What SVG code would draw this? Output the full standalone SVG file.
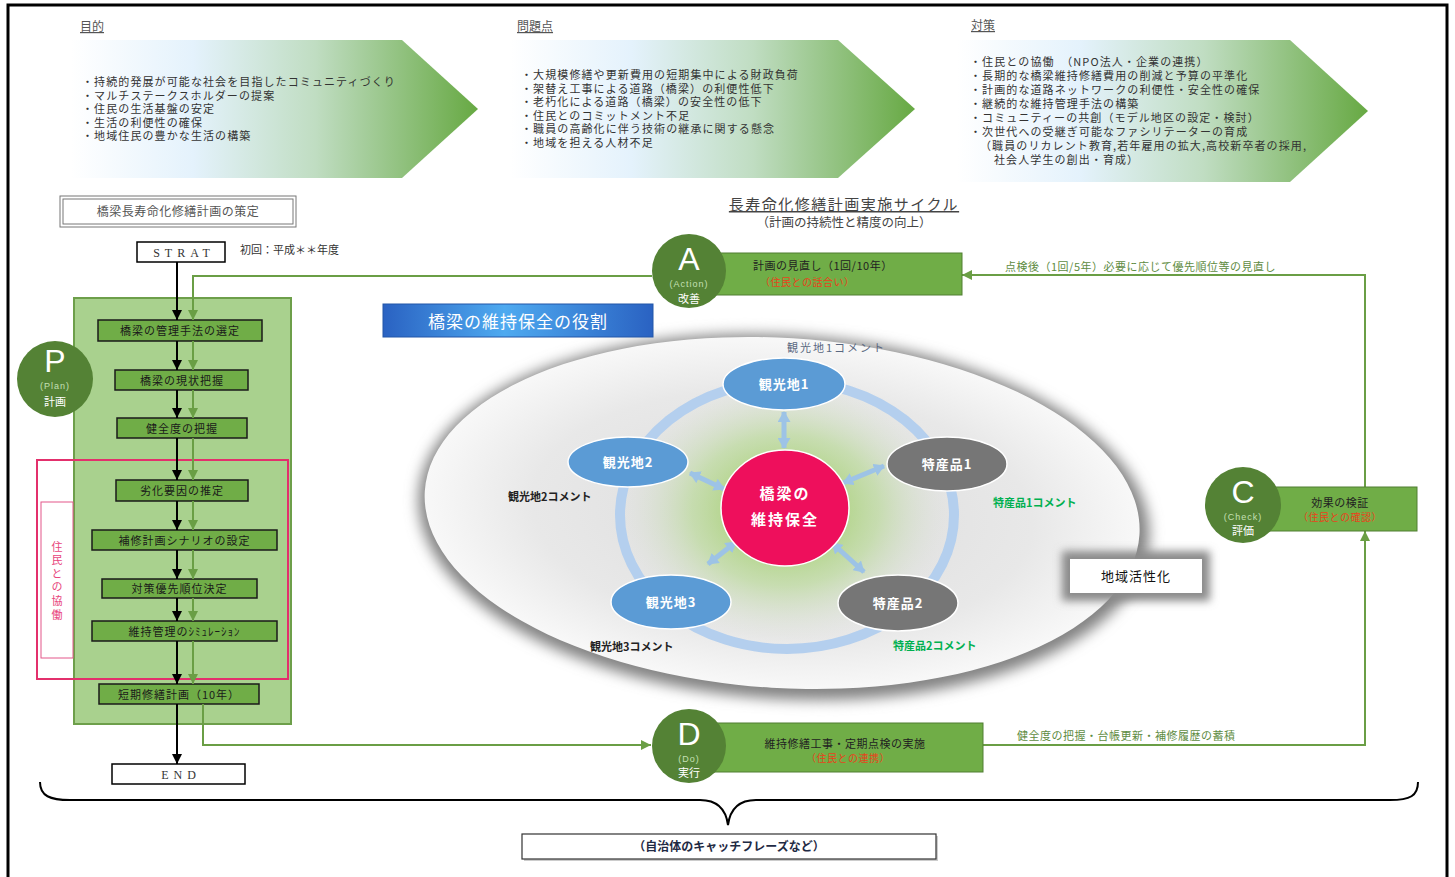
<svg xmlns="http://www.w3.org/2000/svg" width="1455" height="877" viewBox="0 0 1455 877">
<style>
text{font-family:"Noto Sans CJK JP","Noto Sans",sans-serif;}
.hd{font-size:12px;fill:#555;text-decoration:underline;}
.bl{font-size:11px;fill:#333;letter-spacing:1.1px;}
.fb{fill:#70ad47;stroke:#1a1a1a;stroke-width:1.5;}
.ft{font-size:11px;fill:#1a1a1a;letter-spacing:1px;text-anchor:middle;}
.pc{fill:#548235;}
.big{font-family:"Liberation Sans","Noto Sans",sans-serif;font-size:32px;fill:#fff;text-anchor:middle;}
.sub{font-family:"Liberation Sans","Noto Sans",sans-serif;font-size:9px;fill:#c5e0b4;text-anchor:middle;letter-spacing:1px;}
.jp{font-size:11px;fill:#fff;text-anchor:middle;}
.gr{fill:#70ad47;stroke:#507e32;stroke-width:1;}
.gt{font-size:11px;fill:#222;letter-spacing:0.5px;}
.rt{font-size:10px;fill:#e8431c;letter-spacing:0.5px;}
.gl{font-size:11px;fill:#5e8c42;letter-spacing:0.5px;}
.ln{fill:none;stroke:#6a9e45;stroke-width:2;}
.bk{fill:none;stroke:#000;stroke-width:2;}
.nb{fill:#5b9bd5;stroke:#fff;stroke-width:1.5;}
.ng{fill:#767676;stroke:#fff;stroke-width:1.5;}
.nt{font-size:13px;font-weight:bold;fill:#fff;text-anchor:middle;letter-spacing:1px;}
.ba{fill:none;stroke:#9dc3e6;stroke-width:5;}
.se{font-family:"Liberation Serif",serif;font-size:12px;fill:#333;text-anchor:middle;letter-spacing:5px;}
</style>
<defs>
<linearGradient id="gArrow" x1="0" y1="0" x2="1" y2="0">
<stop offset="0" stop-color="#ffffff"/>
<stop offset="0.3" stop-color="#e4f2fc"/>
<stop offset="0.6" stop-color="#c0ddc2"/>
<stop offset="1" stop-color="#67a943"/>
</linearGradient>
<linearGradient id="gBanner" x1="0" y1="0" x2="1" y2="0">
<stop offset="0" stop-color="#2a62c2"/>
<stop offset="0.45" stop-color="#4eaaf0"/>
<stop offset="1" stop-color="#2a62c2"/>
</linearGradient>
<radialGradient id="gEll" cx="0.5" cy="0.5" r="0.5">
<stop offset="0" stop-color="#dcdcdc"/>
<stop offset="0.7" stop-color="#e8e8e8"/>
<stop offset="1" stop-color="#f8f8f8"/>
</radialGradient>
<radialGradient id="gGlow" cx="0.5" cy="0.5" r="0.5">
<stop offset="0" stop-color="#8cc63f" stop-opacity="0.95"/>
<stop offset="0.55" stop-color="#b5d98f" stop-opacity="0.6"/>
<stop offset="1" stop-color="#e0e0e0" stop-opacity="0"/>
</radialGradient>
<filter id="blur8" x="-20%" y="-30%" width="140%" height="160%"><feGaussianBlur stdDeviation="7"/></filter>
<filter id="blur4" x="-30%" y="-60%" width="160%" height="220%"><feGaussianBlur stdDeviation="4"/></filter>
<marker id="mBlack" markerWidth="11" markerHeight="10" refX="10" refY="5" orient="auto" markerUnits="userSpaceOnUse"><path d="M0,0 L10,5 L0,10 Z" fill="#000"/></marker>
<marker id="mGreen" markerWidth="11" markerHeight="10" refX="10" refY="5" orient="auto" markerUnits="userSpaceOnUse"><path d="M0,0 L10,5 L0,10 Z" fill="#6a9e45"/></marker>
<marker id="mBlue" markerWidth="12" markerHeight="13" refX="10" refY="6.5" orient="auto-start-reverse" markerUnits="userSpaceOnUse"><path d="M0,0 L11,6.5 L0,13 Z" fill="#9dc3e6"/></marker>
</defs>
<rect x="0" y="0" width="1455" height="877" fill="#fff"/>
<rect x="8" y="5" width="1439" height="890" fill="none" stroke="#000" stroke-width="3"/>

<!-- top arrows -->
<g id="mokuteki">
<text x="80" y="31" class="hd">目的</text>
<polygon points="71,40 402,40 478,109 402,178 71,178" fill="url(#gArrow)"/>
<text class="bl" x="82" y="86">・持続的発展が可能な社会を目指したコミュニティづくり</text>
<text class="bl" x="82" y="99.5">・マルチステークスホルダーの提案</text>
<text class="bl" x="82" y="113">・住民の生活基盤の安定</text>
<text class="bl" x="82" y="126.5">・生活の利便性の確保</text>
<text class="bl" x="82" y="140">・地域住民の豊かな生活の構築</text>
</g>
<g id="mondai">
<text x="517" y="31" class="hd">問題点</text>
<polygon points="510,40 838,40 915,109 838,178 510,178" fill="url(#gArrow)"/>
<text class="bl" x="521" y="79">・大規模修繕や更新費用の短期集中による財政負荷</text>
<text class="bl" x="521" y="92.5">・架替え工事による道路（橋梁）の利便性低下</text>
<text class="bl" x="521" y="106">・老朽化による道路（橋梁）の安全性の低下</text>
<text class="bl" x="521" y="119.5">・住民とのコミットメント不足</text>
<text class="bl" x="521" y="133">・職員の高齢化に伴う技術の継承に関する懸念</text>
<text class="bl" x="521" y="146.5">・地域を担える人材不足</text>
</g>
<g id="taisaku">
<text x="971" y="30" class="hd">対策</text>
<polygon points="957,40 1290,40 1368,111 1290,182 957,182" fill="url(#gArrow)"/>
<text class="bl" x="970" y="66">・住民との協働　（NPO法人・企業の連携）</text>
<text class="bl" x="970" y="80">・長期的な橋梁維持修繕費用の削減と予算の平準化</text>
<text class="bl" x="970" y="94">・計画的な道路ネットワークの利便性・安全性の確保</text>
<text class="bl" x="970" y="108">・継続的な維持管理手法の構築</text>
<text class="bl" x="970" y="121.5">・コミュニティーの共創（モデル地区の設定・検討）</text>
<text class="bl" x="970" y="135.5">・次世代への受継ぎ可能なファシリテーターの育成</text>
<text class="bl" x="980" y="150">（職員のリカレント教育,若年雇用の拡大,高校新卒者の採用,</text>
<text class="bl" x="994" y="163.5">社会人学生の創出・育成）</text>
</g>

<!-- left plan section -->
<g id="plan-title">
<rect x="60" y="196" width="236" height="31" fill="#fff" stroke="#777" stroke-width="1"/>
<rect x="63" y="199" width="230" height="25" fill="none" stroke="#777" stroke-width="1"/>
<text x="178" y="216" font-size="12" fill="#555" text-anchor="middle" letter-spacing="0.5">橋梁長寿命化修繕計画の策定</text>
</g>
<g id="start">
<rect x="137" y="242" width="88" height="20" fill="#fff" stroke="#000" stroke-width="1.5"/>
<text x="184" y="257" class="se">STRAT</text>
<text x="240" y="254" font-size="11" fill="#333">初回：平成＊＊年度</text>
</g>
<g id="plan-panel">
<rect x="74" y="298" width="217" height="426" fill="#a9d18e" stroke="#6d9f4a" stroke-width="2"/>
</g>
<g id="jumin-kyodo">
<rect x="37" y="460" width="251" height="219" fill="none" stroke="#e3306c" stroke-width="2"/>
<rect x="41" y="502" width="32" height="156" fill="#fff" stroke="#e3578a" stroke-width="1"/>
<text x="57" y="541" font-size="11" fill="#e8457c" writing-mode="vertical-rl" letter-spacing="2.6">住民との協働</text>
</g>
<g id="P">
<circle cx="55" cy="379" r="38" class="pc"/>
<text x="55" y="372" class="big">P</text>
<text x="55" y="389" class="sub">(Plan)</text>
<text x="55" y="406" class="jp">計画</text>
</g>
<g id="box1"><rect x="98" y="320" width="164" height="21" class="fb"/><text x="180" y="335" class="ft">橋梁の管理手法の選定</text></g>
<g id="box2"><rect x="115" y="370" width="133" height="20" class="fb"/><text x="182" y="384.5" class="ft">橋梁の現状把握</text></g>
<g id="box3"><rect x="117" y="418" width="130" height="20" class="fb"/><text x="182" y="432.5" class="ft">健全度の把握</text></g>
<g id="box4"><rect x="116" y="480" width="132" height="21" class="fb"/><text x="182" y="495" class="ft">劣化要因の推定</text></g>
<g id="box5"><rect x="92" y="530" width="185" height="20" class="fb"/><text x="184.5" y="544.5" class="ft">補修計画シナリオの設定</text></g>
<g id="box6"><rect x="102" y="579" width="155" height="19" class="fb"/><text x="179.5" y="593" class="ft">対策優先順位決定</text></g>
<g id="box7"><rect x="92" y="621" width="185" height="20" class="fb"/><text x="184.5" y="635.5" class="ft">維持管理のｼﾐｭﾚｰｼｮﾝ</text></g>
<g id="box8"><rect x="99" y="684" width="160" height="20" class="fb"/><text x="179" y="698.5" class="ft">短期修繕計画（10年）</text></g>
<g id="end">
<rect x="112" y="764" width="133" height="20" fill="#fff" stroke="#000" stroke-width="1.5"/>
<text x="181" y="779" class="se">END</text>
</g>

<!-- center title -->
<g id="cycle-title">
<text x="844" y="210" font-size="15" fill="#444" text-anchor="middle" letter-spacing="1.5" text-decoration="underline">長寿命化修繕計画実施サイクル</text>
<text x="844" y="227" font-size="12.5" fill="#444" text-anchor="middle">（計画の持続性と精度の向上）</text>
</g>

<!-- ellipse diagram -->
<g id="role-ellipse">
<g transform="rotate(3.5 782 515)">
<ellipse cx="784" cy="517" rx="366" ry="182" fill="#838383" filter="url(#blur8)"/>
<ellipse cx="782" cy="513" rx="358" ry="175" fill="url(#gEll)"/>
</g>
<ellipse cx="785" cy="510" rx="170" ry="138" fill="url(#gGlow)"/>
<ellipse cx="787" cy="515" rx="167" ry="134" fill="none" stroke="#b4cfee" stroke-width="10"/>
</g>
<g id="banner">
<rect x="383" y="304" width="270" height="33" fill="url(#gBanner)" stroke="#2356a8" stroke-width="1"/>
<text x="518" y="328" font-size="17" fill="#fff" text-anchor="middle" letter-spacing="1">橋梁の維持保全の役割</text>
</g>
<g id="blue-arrows">
<line x1="784" y1="412" x2="784" y2="448" class="ba" marker-start="url(#mBlue)" marker-end="url(#mBlue)"/>
<line x1="690" y1="473" x2="724" y2="489" class="ba" marker-start="url(#mBlue)" marker-end="url(#mBlue)"/>
<line x1="708" y1="564" x2="736" y2="542" class="ba" marker-start="url(#mBlue)" marker-end="url(#mBlue)"/>
<line x1="843" y1="483" x2="884" y2="466" class="ba" marker-start="url(#mBlue)" marker-end="url(#mBlue)"/>
<line x1="832" y1="543" x2="864" y2="572" class="ba" marker-start="url(#mBlue)" marker-end="url(#mBlue)"/>
</g>
<g id="kanko1"><ellipse cx="784" cy="384" rx="61" ry="26" class="nb"/><text x="784" y="388.5" class="nt">観光地1</text></g>
<g id="kanko2"><ellipse cx="628" cy="462" rx="60" ry="25" class="nb"/><text x="628" y="466.5" class="nt">観光地2</text></g>
<g id="kanko3"><ellipse cx="671" cy="602" rx="60" ry="27" class="nb"/><text x="671" y="606.5" class="nt">観光地3</text></g>
<g id="tokusan1"><ellipse cx="947" cy="464" rx="60" ry="27" class="ng"/><text x="947" y="468.5" class="nt">特産品1</text></g>
<g id="tokusan2"><ellipse cx="898" cy="603" rx="60" ry="28" class="ng"/><text x="898" y="607.5" class="nt">特産品2</text></g>
<g id="center">
<ellipse cx="785" cy="508" rx="64" ry="58" fill="#ee0f5c" stroke="#fff" stroke-width="1.5"/>
<text x="785" y="499" font-size="15" font-weight="bold" fill="#fff" text-anchor="middle" letter-spacing="2">橋梁の</text>
<text x="785" y="525" font-size="15" font-weight="bold" fill="#fff" text-anchor="middle" letter-spacing="2">維持保全</text>
</g>
<g id="comments" font-size="11">
<text x="787" y="352" fill="#596780" letter-spacing="2">観光地1コメント</text>
<text x="508" y="501" fill="#222" font-weight="bold">観光地2コメント</text>
<text x="590" y="651" fill="#222" font-weight="bold">観光地3コメント</text>
<text x="993" y="507" fill="#00b050" font-weight="bold">特産品1コメント</text>
<text x="893" y="650" fill="#00b050" font-weight="bold">特産品2コメント</text>
</g>
<g id="chiiki">
<rect x="1062" y="551" width="148" height="50" fill="#8a8a8a" filter="url(#blur4)"/>
<rect x="1070" y="559" width="132" height="34" fill="#fff"/>
<text x="1136" y="581" font-size="13" fill="#111" text-anchor="middle" letter-spacing="1">地域活性化</text>
</g>

<!-- connectors -->
<g id="connectors">
<line x1="177" y1="262" x2="177" y2="320" class="bk" marker-end="url(#mBlack)"/>
<line x1="177" y1="341" x2="177" y2="370" class="bk" marker-end="url(#mBlack)"/>
<line x1="177" y1="390" x2="177" y2="418" class="bk" marker-end="url(#mBlack)"/>
<line x1="177" y1="438" x2="177" y2="480" class="bk" marker-end="url(#mBlack)"/>
<line x1="177" y1="501" x2="177" y2="530" class="bk" marker-end="url(#mBlack)"/>
<line x1="177" y1="550" x2="177" y2="579" class="bk" marker-end="url(#mBlack)"/>
<line x1="177" y1="598" x2="177" y2="621" class="bk" marker-end="url(#mBlack)"/>
<line x1="177" y1="641" x2="177" y2="684" class="bk" marker-end="url(#mBlack)"/>
<line x1="177" y1="704" x2="177" y2="764" class="bk" marker-end="url(#mBlack)"/>
<path d="M652,276 H193 V320" class="ln" marker-end="url(#mGreen)"/>
<line x1="193" y1="341" x2="193" y2="370" class="ln" marker-end="url(#mGreen)"/>
<line x1="193" y1="390" x2="193" y2="418" class="ln" marker-end="url(#mGreen)"/>
<line x1="193" y1="438" x2="193" y2="480" class="ln" marker-end="url(#mGreen)"/>
<line x1="193" y1="501" x2="193" y2="530" class="ln" marker-end="url(#mGreen)"/>
<line x1="193" y1="550" x2="193" y2="579" class="ln" marker-end="url(#mGreen)"/>
<line x1="193" y1="598" x2="193" y2="621" class="ln" marker-end="url(#mGreen)"/>
<line x1="193" y1="641" x2="193" y2="684" class="ln" marker-end="url(#mGreen)"/>
<path d="M203,704 V745 H651" class="ln" marker-end="url(#mGreen)"/>
<path d="M983,745 H1365 V531" class="ln" marker-end="url(#mGreen)"/>
<path d="M1365,487 V275 H962" class="ln" marker-end="url(#mGreen)"/>
<text x="1005" y="271" class="gl">点検後（1回/5年）必要に応じて優先順位等の見直し</text>
<text x="1017" y="740" class="gl">健全度の把握・台帳更新・補修履歴の蓄積</text>
</g>

<!-- PDCA nodes -->
<g id="A">
<rect x="715" y="253" width="247" height="42" class="gr"/>
<circle cx="689" cy="271" r="37" class="pc"/>
<text x="689" y="270" class="big">A</text>
<text x="689" y="287" class="sub">(Action)</text>
<text x="689" y="303" class="jp">改善</text>
<text x="753" y="270" class="gt">計画の見直し（1回/10年）</text>
<text x="760" y="286" class="rt">（住民との話合い）</text>
</g>
<g id="C">
<rect x="1265" y="487" width="152" height="44" class="gr"/>
<circle cx="1243" cy="505" r="38" class="pc"/>
<text x="1243" y="503" class="big">C</text>
<text x="1243" y="520" class="sub">(Check)</text>
<text x="1243" y="535" class="jp">評価</text>
<text x="1340" y="507" class="gt" text-anchor="middle">効果の検証</text>
<text x="1340" y="521" class="rt" text-anchor="middle">（住民との確認）</text>
</g>
<g id="D">
<rect x="715" y="723" width="268" height="49" class="gr"/>
<circle cx="689" cy="746" r="37" class="pc"/>
<text x="689" y="745" class="big">D</text>
<text x="689" y="762" class="sub">(Do)</text>
<text x="689" y="777" class="jp">実行</text>
<text x="845" y="748" class="gt" text-anchor="middle">維持修繕工事・定期点検の実施</text>
<text x="848" y="762" class="rt" text-anchor="middle">（住民との連携）</text>
</g>

<!-- brace and caption -->
<g id="brace">
<path d="M40,782 C40,796 50,800 70,800 H700 C718,800 726,810 728,825 C730,810 738,800 756,800 H1390 C1410,800 1418,796 1418,782" fill="none" stroke="#000" stroke-width="2"/>
</g>
<g id="caption">
<rect x="524" y="836" width="414" height="25" fill="#999" opacity="0.5"/>
<rect x="522" y="834" width="414" height="25" fill="#fff" stroke="#333" stroke-width="1.2"/>
<text x="729" y="851" font-size="12" font-weight="bold" fill="#1f2a44" text-anchor="middle">（自治体のキャッチフレーズなど）</text>
</g>
</svg>
